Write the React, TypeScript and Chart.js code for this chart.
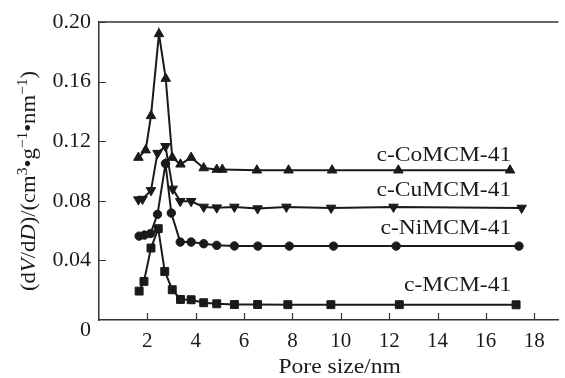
import React, { useEffect, useRef } from "react";
import { Chart, registerables } from "chart.js";

Chart.register(...registerables);

const coX = [1.63, 1.93, 2.15, 2.48, 2.76, 3.03, 3.37, 3.81, 4.33, 4.87, 5.1, 6.53, 7.84, 9.64, 12.38, 17.0];
const coY = [0.109, 0.114, 0.137, 0.192, 0.162, 0.109, 0.1045, 0.109, 0.102, 0.101, 0.101, 0.1005, 0.1005, 0.1005, 0.1005, 0.1005];

const cuX = [1.63, 1.8, 2.15, 2.42, 2.75, 3.05, 3.36, 3.81, 4.33, 4.87, 5.6, 6.56, 7.75, 9.6, 12.18, 17.48];
const cuY = [0.0808, 0.0812, 0.087, 0.112, 0.1166, 0.088, 0.0797, 0.0797, 0.0759, 0.0754, 0.0759, 0.0748, 0.0759, 0.0752, 0.0759, 0.0752];

const niX = [1.66, 1.88, 2.13, 2.42, 2.75, 2.99, 3.36, 3.81, 4.33, 4.87, 5.6, 6.57, 7.87, 9.7, 12.29, 17.37];
const niY = [0.0563, 0.057, 0.058, 0.0709, 0.105, 0.0718, 0.0523, 0.0523, 0.0512, 0.0501, 0.0497, 0.0496, 0.0496, 0.0496, 0.0496, 0.0496];

const mcmX = [1.66, 1.86, 2.15, 2.45, 2.72, 3.03, 3.37, 3.81, 4.33, 4.87, 5.6, 6.56, 7.81, 9.59, 12.42, 17.25];
const mcmY = [0.0194, 0.0259, 0.0483, 0.0613, 0.0326, 0.0203, 0.0138, 0.0136, 0.0116, 0.0109, 0.0104, 0.0104, 0.0103, 0.0103, 0.0103, 0.0102];

const seriesNames = ["c-CoMCM-41", "c-CuMCM-41", "c-NiMCM-41", "c-MCM-41"];
const labelAnchorX = [17.05, 17.05, 17.05, 17.05];
const labelAnchorY = [0.1106, 0.0871, 0.0615, 0.0232];

const xTicks = [2, 4, 6, 8, 10, 12, 14, 16, 18];
const yTicks = [0, 0.04, 0.08, 0.12, 0.16, 0.2];

const xTitle = "Pore size/nm";
const xTitleAnchor = 9.95;
const yTitleParts: { t: string; s: "n" | "i" | "sup" }[] = [
  { t: "(d", s: "n" },
  { t: "V", s: "i" },
  { t: "/d", s: "n" },
  { t: "D", s: "i" },
  { t: ")/(cm", s: "n" },
  { t: "3", s: "sup" },
  { t: "•g", s: "n" },
  { t: "−1", s: "sup" },
  { t: "•nm", s: "n" },
  { t: "−1", s: "sup" },
  { t: ")", s: "n" },
];

const FONT = "'Liberation Serif', 'Times New Roman', serif";
const INK = "#1a1a1a";
const STRETCH = 1.07;

const zip = (xs: number[], ys: number[]) => xs.map((x, i) => ({ x, y: ys[i] }));

function stretchedText(ctx: any, text: string, x: number, y: number) {
  ctx.save();
  ctx.translate(x, y);
  ctx.scale(STRETCH, 1);
  ctx.fillText(text, 0, 0);
  ctx.restore();
}

const decorPlugin = {
  id: "decor",
  afterDraw(chart: any) {
    const { ctx, chartArea, scales } = chart;
    const xs = scales.x;
    const ys = scales.y;
    ctx.save();
    // top frame line
    ctx.strokeStyle = "#333";
    ctx.lineWidth = 1.5;
    ctx.beginPath();
    ctx.moveTo(chartArea.left, chartArea.top);
    ctx.lineTo(chartArea.right, chartArea.top);
    ctx.stroke();
    // inward tick marks
    ctx.lineWidth = 1.2;
    ctx.beginPath();
    xTicks.forEach((v) => {
      const px = Math.round(xs.getPixelForValue(v)) + 0.5;
      ctx.moveTo(px, chartArea.bottom);
      ctx.lineTo(px, chartArea.bottom - 7);
    });
    yTicks.forEach((v) => {
      if (v === 0) return;
      const py = Math.round(ys.getPixelForValue(v)) + 0.5;
      ctx.moveTo(chartArea.left, py);
      ctx.lineTo(chartArea.left + 7, py);
    });
    ctx.stroke();

    // series labels
    ctx.fillStyle = INK;
    ctx.font = `22px ${FONT}`;
    ctx.textAlign = "right";
    ctx.textBaseline = "middle";
    seriesNames.forEach((name, i) => {
      stretchedText(ctx, name, xs.getPixelForValue(labelAnchorX[i]), ys.getPixelForValue(labelAnchorY[i]));
    });

    // x title
    ctx.textAlign = "center";
    stretchedText(ctx, xTitle, xs.getPixelForValue(xTitleAnchor), 367);

    // y title (rotated, mixed styles)
    const normal = `22px ${FONT}`;
    const italic = `italic 22px ${FONT}`;
    const sup = `15px ${FONT}`;
    const fontFor = (s: string) => (s === "i" ? italic : s === "sup" ? sup : normal);
    let total = 0;
    yTitleParts.forEach((p) => {
      ctx.font = fontFor(p.s);
      total += ctx.measureText(p.t).width;
    });
    const cy = (chartArea.top + chartArea.bottom) / 2 + 10;
    ctx.translate(35, cy);
    ctx.rotate(-Math.PI / 2);
    ctx.scale(1.03, 1);
    ctx.textAlign = "left";
    ctx.textBaseline = "alphabetic";
    let pos = -total / 2;
    yTitleParts.forEach((p) => {
      ctx.font = fontFor(p.s);
      ctx.fillText(p.t, pos, p.s === "sup" ? -8 : 0);
      pos += ctx.measureText(p.t).width;
    });
    ctx.restore();
  },
};

function makeDataset(xs: number[], ys: number[], style: string, radius: number, rotation = 0) {
  return {
    data: zip(xs, ys),
    borderColor: INK,
    backgroundColor: INK,
    borderWidth: 2,
    pointStyle: style,
    pointRadius: radius,
    pointRotation: rotation,
    pointBackgroundColor: INK,
    pointBorderColor: INK,
    pointBorderWidth: 1,
    tension: 0,
    fill: false,
  };
}

export default function App() {
  const ref = useRef<HTMLCanvasElement | null>(null);
  useEffect(() => {
    if (!ref.current) return;
    const chart = new Chart(ref.current, {
      type: "line",
      data: {
        datasets: [
          makeDataset(coX, coY, "triangle", 5.5),
          makeDataset(cuX, cuY, "triangle", 5.5, 180),
          makeDataset(niX, niY, "circle", 4.2),
          makeDataset(mcmX, mcmY, "rect", 5.6),
        ] as any,
      },
      options: {
        responsive: false,
        animation: false,
        layout: { padding: { top: 22, right: 0, left: 0, bottom: 0 } },
        plugins: { legend: { display: false }, tooltip: { enabled: false } },
        scales: {
          x: {
            type: "linear",
            min: 0,
            max: 19,
            afterBuildTicks: (scale: any) => {
              scale.ticks = xTicks.map((v) => ({ value: v }));
            },
            afterFit: (scale: any) => {
              scale.height = 58;
            },
            grid: { display: false, drawTicks: false },
            border: { display: true, color: "#333", width: 1.5 },
            ticks: {
              color: INK,
              font: { family: FONT, size: 21 },
              padding: 9,
              maxRotation: 0,
              autoSkip: false,
            },
            title: { display: false },
          },
          y: {
            type: "linear",
            min: 0,
            max: 0.2,
            afterBuildTicks: (scale: any) => {
              scale.ticks = yTicks.map((v) => ({ value: v }));
            },
            afterFit: (scale: any) => {
              scale.width = 99;
            },
            grid: { display: false, drawTicks: false },
            border: { display: true, color: "#333", width: 1.5 },
            ticks: {
              color: INK,
              font: { family: FONT, size: 22, lineHeight: 0.95 },
              padding: 8,
              callback: (v: any) => (v === 0 ? ["", "0"] : Number(v).toFixed(2)),
            },
          },
        },
      },
      plugins: [decorPlugin],
    });
    return () => chart.destroy();
  }, []);
  return (
    <div style={{ position: "fixed", left: 0, top: 0, width: 565, height: 378, background: "#fff" }}>
      <canvas ref={ref} width={565} height={378} style={{ display: "block" }} />
    </div>
  );
}
